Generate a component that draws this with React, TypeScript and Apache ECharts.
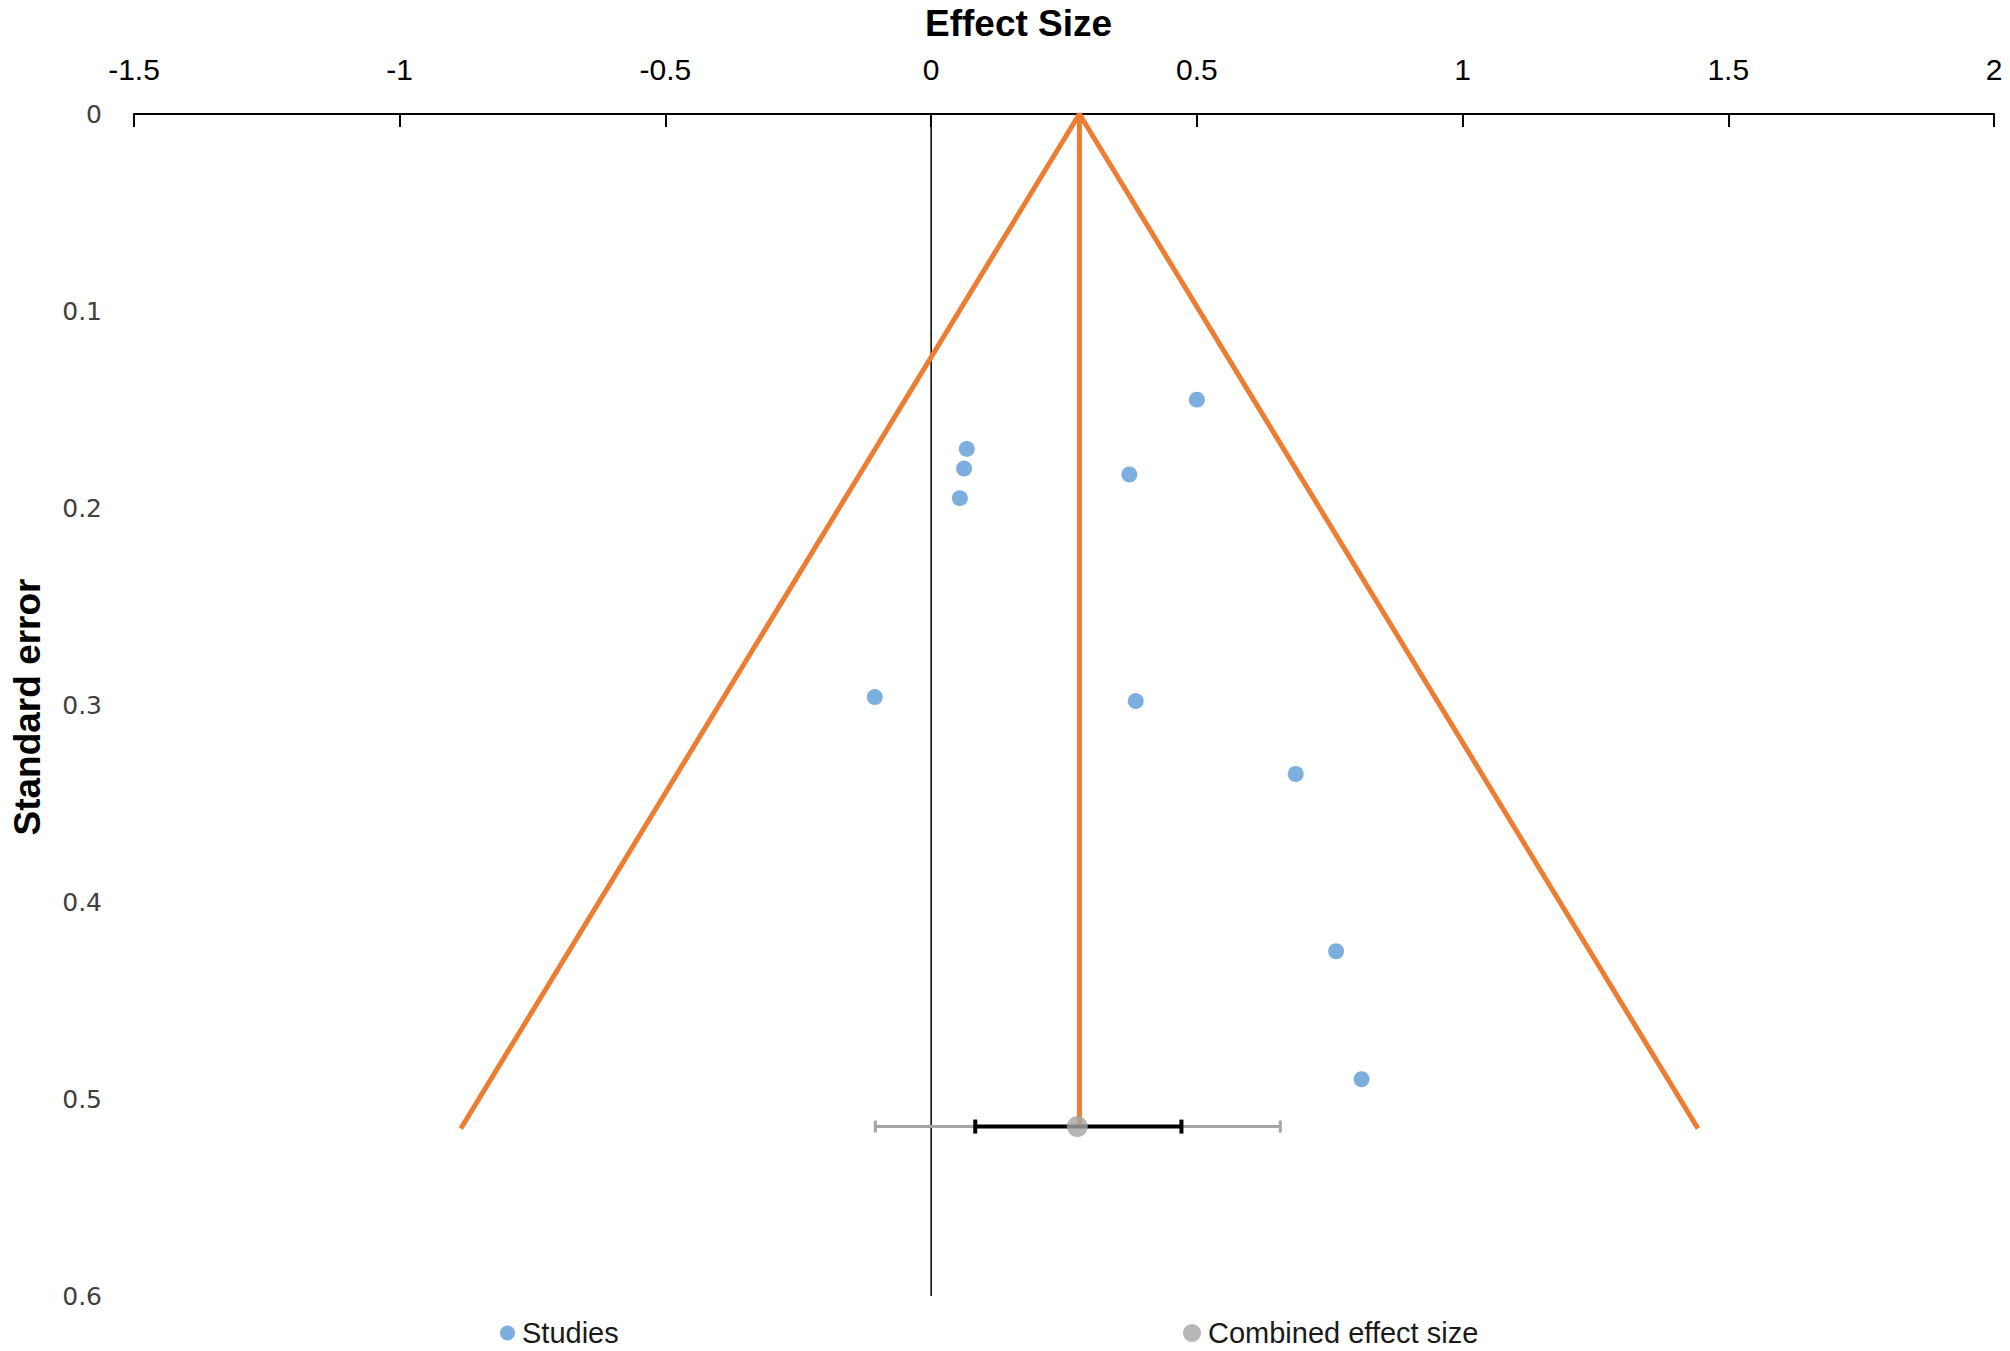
import React, { useEffect, useRef } from "react";
import * as echarts from "echarts";

// ---- data ----
const studyEffect = [0.5, 0.067, 0.062, 0.054, 0.373, -0.106, 0.385, 0.686, 0.762, 0.81];
const studySE = [0.145, 0.17, 0.18, 0.195, 0.183, 0.296, 0.298, 0.335, 0.425, 0.49];

const funnelEffect = [-0.885, 0.279, 1.443];
const funnelSE = [0.515, 0, 0.515];

const pooledLineEffect = [0.279, 0.279];
const pooledLineSE = [0, 0.515];

const zeroLineEffect = [0, 0];
const zeroLineSE = [0, 0.6];

const combinedEffect = [0.275];
const combinedSE = [0.514];

const ciBounds = [0.083, 0.471];
const predictionBounds = [-0.105, 0.657];

const xMin = -1.5;
const xMax = 2;
const xStep = 0.5;
const yMin = 0;
const yMax = 0.6;
const yStep = 0.1;

const SANS = "'Liberation Sans', Arial, sans-serif";
const WIDE = "'DejaVu Sans', Verdana, sans-serif";

const zip = (xs: number[], ys: number[]) => xs.map((x, i) => [x, ys[i]]);

function errorBar(low: number, high: number, y: number, color: string, width: number, cap: number, z: number) {
  return {
    type: "custom",
    silent: true,
    z,
    data: [[low, high, y]],
    encode: { x: [0, 1], y: 2 },
    renderItem: (_params: any, api: any) => {
      const a = api.coord([api.value(0), api.value(2)]);
      const b = api.coord([api.value(1), api.value(2)]);
      const style = { stroke: color, lineWidth: width };
      return {
        type: "group",
        children: [
          { type: "line", shape: { x1: a[0], y1: a[1], x2: b[0], y2: b[1] }, style },
          { type: "line", shape: { x1: a[0], y1: a[1] - cap, x2: a[0], y2: a[1] + cap }, style },
          { type: "line", shape: { x1: b[0], y1: b[1] - cap, x2: b[0], y2: b[1] + cap }, style },
        ],
      };
    },
  };
}

export default function App() {
  const ref = useRef<HTMLDivElement>(null);

  useEffect(() => {
    if (!ref.current) return;
    const chart = echarts.init(ref.current, undefined, { renderer: "svg" });
    const legendText = { fontFamily: SANS, fontSize: 29, lineHeight: 30, color: "#1a1a1a", padding: [0, 0, 0, 2] };
    const option: any = {
      animation: false,
      backgroundColor: "#ffffff",
      title: {
        text: "Effect Size",
        left: 925,
        top: 5,
        padding: 0,
        textStyle: { fontFamily: SANS, fontSize: 37, fontWeight: "bold", color: "#000" },
      },
      legend: [
        {
          data: ["Studies"],
          left: 500,
          top: 1318,
          padding: 0,
          itemWidth: 15,
          itemHeight: 15,
          icon: "circle",
          textStyle: legendText,
        },
        {
          data: ["Combined effect size"],
          left: 1183,
          top: 1318,
          padding: 0,
          itemWidth: 18,
          itemHeight: 18,
          icon: "circle",
          textStyle: legendText,
        },
      ],
      grid: { left: 134, right: 16, top: 114, bottom: 55, containLabel: false },
      xAxis: {
        type: "value",
        position: "top",
        min: xMin,
        max: xMax,
        interval: xStep,
        axisLine: { show: true, onZero: false, lineStyle: { color: "#000", width: 2 } },
        axisTick: { show: true, inside: true, length: 13, lineStyle: { color: "#000", width: 2 } },
        axisLabel: { margin: 30, fontFamily: SANS, fontSize: 30, color: "#000" },
        splitLine: { show: false },
      },
      yAxis: {
        type: "value",
        inverse: true,
        min: yMin,
        max: yMax,
        interval: yStep,
        axisLine: { show: false },
        axisTick: { show: false },
        axisLabel: { margin: 32, fontFamily: WIDE, fontSize: 25, color: "#404040" },
        splitLine: { show: false },
      },
      graphic: [
        {
          type: "text",
          x: 27,
          y: 707,
          rotation: Math.PI / 2,
          style: {
            text: "Standard error",
            fontFamily: SANS,
            fontSize: 37,
            fontWeight: "bold",
            fill: "#000",
            align: "center",
            verticalAlign: "middle",
          },
        },
      ],
      series: [
        {
          type: "line",
          silent: true,
          z: 1,
          data: zip(zeroLineEffect, zeroLineSE),
          symbol: "none",
          lineStyle: { color: "#000", width: 1.5 },
        },
        {
          type: "line",
          silent: true,
          z: 2,
          data: zip(funnelEffect, funnelSE),
          symbol: "none",
          lineStyle: { color: "#ED7D31", width: 5 },
        },
        {
          type: "line",
          silent: true,
          z: 2,
          data: zip(pooledLineEffect, pooledLineSE),
          symbol: "none",
          lineStyle: { color: "#ED7D31", width: 5 },
        },
        errorBar(predictionBounds[0], predictionBounds[1], combinedSE[0], "#A5A5A5", 3, 6, 3),
        errorBar(ciBounds[0], ciBounds[1], combinedSE[0], "#000000", 4, 7, 4),
        {
          name: "Studies",
          type: "scatter",
          z: 5,
          symbol: "circle",
          symbolSize: 16,
          itemStyle: { color: "#5B9BD5" },
          data: zip(studyEffect, studySE),
        },
        {
          name: "Combined effect size",
          type: "scatter",
          z: 6,
          symbol: "circle",
          symbolSize: 21,
          itemStyle: { color: "#A5A5A5" },
          data: zip(combinedEffect, combinedSE),
        },
      ],
    };
    chart.setOption(option);
    return () => chart.dispose();
  }, []);

  return (
    <div
      ref={ref}
      style={{ position: "fixed", left: 0, top: 0, width: 2010, height: 1351, background: "#fff" }}
    />
  );
}
